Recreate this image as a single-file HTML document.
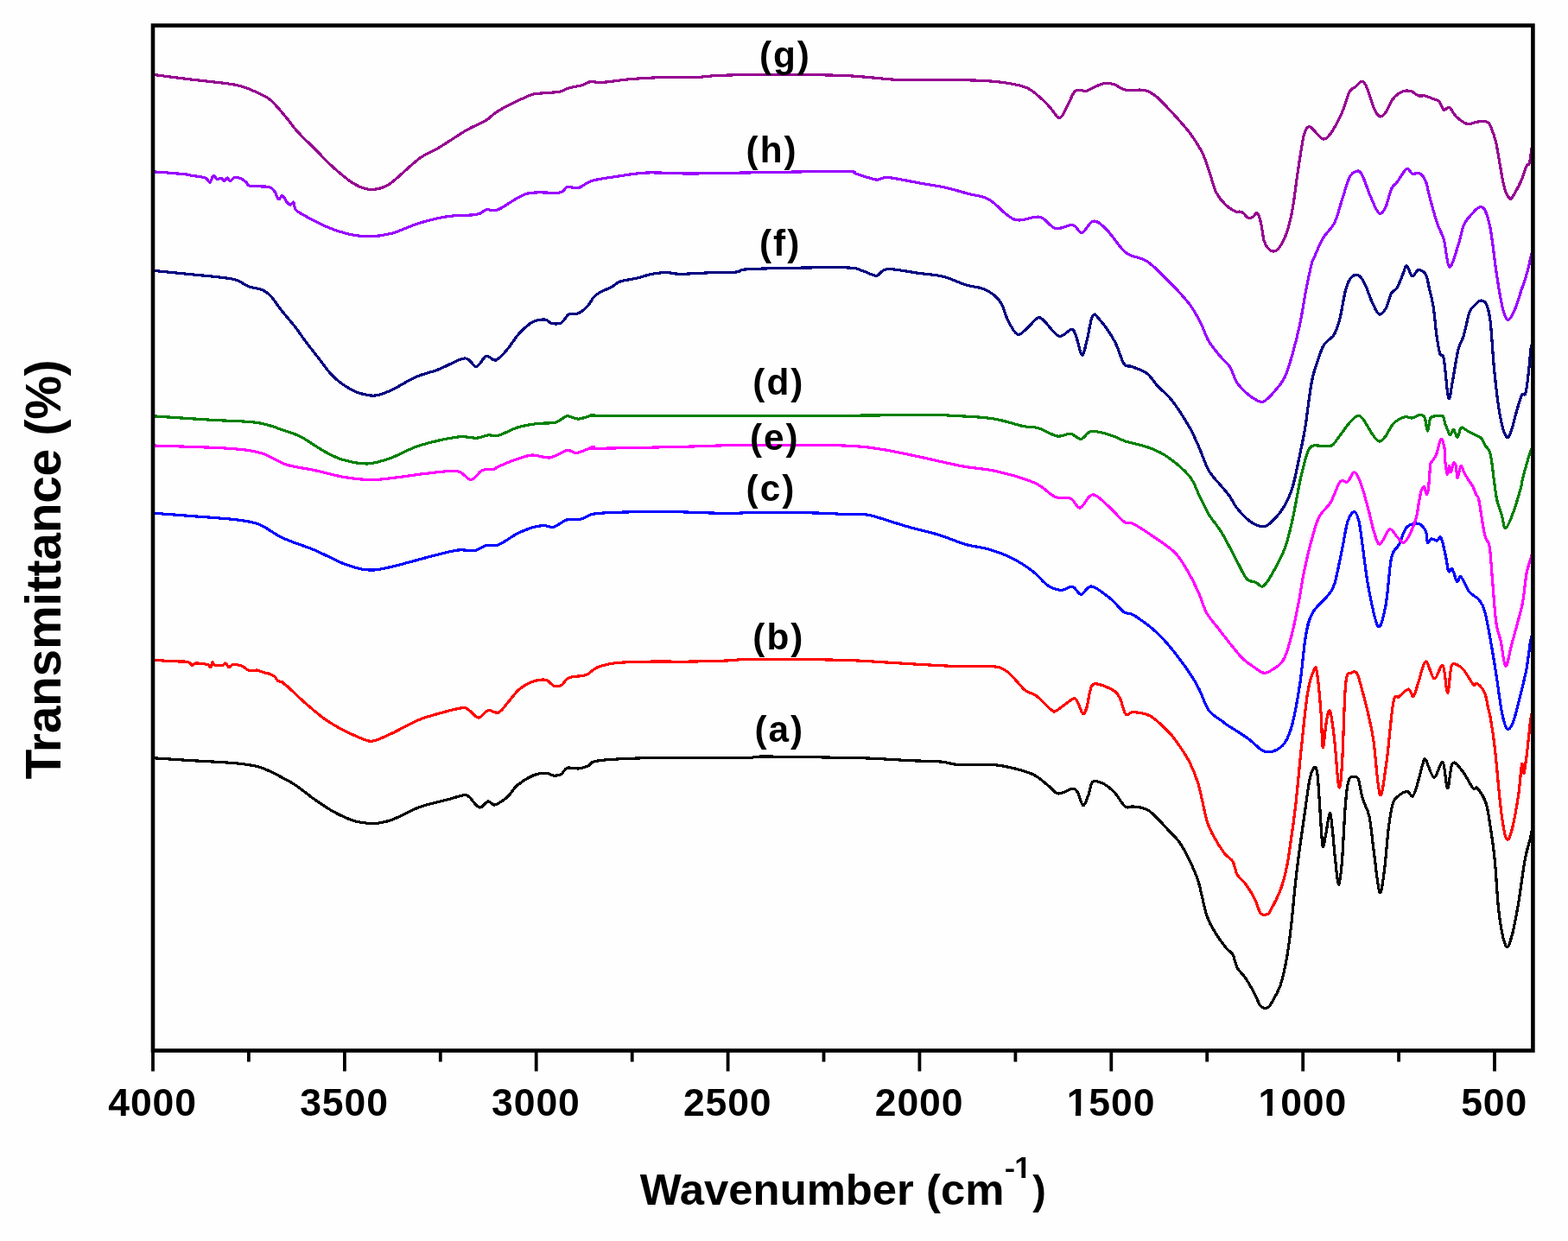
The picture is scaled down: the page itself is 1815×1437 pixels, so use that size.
<!DOCTYPE html><html><head><meta charset="utf-8"><title>FTIR spectra</title><style>html,body{margin:0;padding:0;background:#fff;}svg{display:block;}text{font-family:"Liberation Sans",Arial,sans-serif;font-weight:bold;fill:#000;}</style></head><body>
<svg width="1815" height="1437" viewBox="0 0 1815 1437">
<rect x="0" y="0" width="1815" height="1437" fill="#fefefe"/>
<g fill="none" stroke-width="3.20" stroke-linejoin="round" stroke-linecap="butt" shape-rendering="crispEdges">
<path stroke="#000000" d="M177.0 877.7C184.3 878.2 204.8 879.6 221.0 880.6C237.2 881.6 260.8 882.6 274.0 883.9C287.2 885.2 292.7 886.1 300.4 888.3C308.1 890.5 313.3 893.6 320.3 897.1C327.3 900.6 335.0 904.5 342.3 909.3C349.6 914.1 357.0 920.7 364.3 925.8C371.6 930.9 379.0 936.1 386.4 940.1C393.8 944.1 401.8 947.8 408.4 950.0C415.0 952.2 421.2 952.8 426.0 953.3C430.8 953.8 432.2 954.0 437.0 953.3C441.8 952.6 446.6 952.0 454.7 948.9C462.8 945.8 474.9 938.5 485.5 934.6C496.1 930.8 510.2 928.1 518.6 925.8C527.1 923.5 532.2 921.4 536.2 920.9C540.2 920.4 539.7 920.1 542.8 922.5C545.9 924.9 551.3 934.1 555.0 935.0C558.7 935.9 562.1 928.5 564.9 928.0C567.6 927.5 569.5 931.6 571.5 932.0C573.5 932.4 574.2 931.8 577.0 930.2C579.8 928.6 584.3 925.8 588.0 922.3C591.7 918.8 594.2 913.1 599.0 909.1C603.8 905.1 611.2 900.4 616.7 898.1C622.2 895.8 628.1 895.2 632.1 895.2C636.1 895.2 638.0 897.9 640.9 898.1C643.8 898.3 647.1 898.0 649.7 896.5C652.3 895.0 653.0 890.4 656.3 889.3C659.6 888.2 665.5 890.3 669.6 889.9C673.7 889.5 677.7 888.3 680.6 887.0C683.5 885.7 682.4 883.3 687.2 882.0C692.0 880.7 698.2 880.0 709.2 879.3C720.2 878.6 738.6 877.9 753.3 877.6C768.0 877.3 779.0 877.6 797.4 877.6C815.8 877.6 848.8 877.9 863.5 877.6C878.2 877.3 866.6 876.0 885.5 876.0C904.4 876.0 956.8 877.0 977.0 877.4C997.2 877.8 994.5 877.6 1007.0 878.1C1019.5 878.6 1038.3 879.9 1052.1 880.6C1065.9 881.3 1080.1 881.3 1089.7 882.1C1099.3 882.9 1099.7 885.0 1109.7 885.6C1119.7 886.2 1138.5 884.8 1149.8 885.6C1161.1 886.4 1169.5 888.6 1177.4 890.6C1185.3 892.6 1191.6 894.6 1197.4 897.6C1203.2 900.6 1207.8 905.4 1212.4 908.9C1217.0 912.4 1220.2 918.2 1225.0 918.9C1229.8 919.6 1237.5 913.4 1241.2 913.2C1245.0 913.0 1245.4 914.5 1247.5 917.7C1249.6 921.0 1251.7 932.3 1253.8 932.7C1255.9 933.1 1258.1 924.8 1260.0 920.2C1261.9 915.6 1262.1 907.3 1265.0 905.2C1267.9 903.1 1273.4 905.6 1277.6 907.7C1281.8 909.8 1285.9 913.3 1290.1 917.7C1294.3 922.1 1298.8 931.3 1302.6 934.0C1306.3 936.7 1308.0 933.2 1312.6 934.0C1317.2 934.8 1323.5 934.4 1330.2 939.0C1336.9 943.6 1346.9 955.5 1352.7 961.5C1358.5 967.5 1361.2 969.5 1365.2 975.3C1369.2 981.1 1373.4 989.0 1377.0 996.5C1380.6 1004.0 1383.7 1009.7 1387.0 1020.4C1390.3 1031.1 1393.7 1050.5 1397.0 1060.5C1400.3 1070.5 1403.3 1074.2 1407.1 1080.5C1410.9 1086.8 1416.3 1093.8 1419.6 1098.0C1422.9 1102.2 1425.0 1101.7 1427.1 1105.5C1429.2 1109.3 1429.6 1116.0 1432.1 1120.6C1434.6 1125.2 1438.8 1128.1 1442.1 1133.1C1445.4 1138.1 1449.4 1145.4 1452.1 1150.6C1454.8 1155.8 1456.7 1161.2 1458.5 1164.0C1460.3 1166.8 1461.3 1166.7 1462.7 1167.2C1464.1 1167.7 1465.4 1167.4 1466.7 1166.8C1468.0 1166.2 1467.9 1167.9 1470.5 1163.5C1473.1 1159.1 1479.0 1149.8 1482.2 1140.6C1485.4 1131.3 1487.6 1119.7 1489.7 1108.0C1491.8 1096.3 1493.0 1085.1 1494.7 1070.5C1496.4 1055.9 1498.0 1035.4 1499.7 1020.4C1501.4 1005.4 1503.0 992.8 1504.7 980.3C1506.4 967.8 1507.8 958.1 1509.7 945.2C1511.6 932.3 1514.1 912.1 1516.0 902.7C1517.9 893.3 1519.5 890.2 1521.0 888.9C1522.5 887.6 1523.8 888.6 1524.8 895.1C1525.8 901.6 1526.3 913.7 1527.3 927.7C1528.3 941.7 1529.8 972.7 1531.0 979.0C1532.2 985.3 1533.4 971.5 1534.8 965.3C1536.2 959.0 1538.0 942.3 1539.3 941.5C1540.5 940.7 1541.2 950.5 1542.3 960.3C1543.4 970.1 1544.8 989.7 1546.1 1000.3C1547.3 1010.9 1548.5 1024.9 1549.8 1024.1C1551.0 1023.3 1552.3 1010.5 1553.6 995.3C1554.8 980.1 1556.0 947.9 1557.3 932.7C1558.5 917.5 1559.4 909.4 1561.1 903.9C1562.8 898.4 1565.5 899.9 1567.4 899.7C1569.3 899.5 1570.7 898.5 1572.4 902.7C1574.1 907.0 1575.3 918.1 1577.4 925.2C1579.5 932.3 1582.8 935.6 1584.9 945.2C1587.0 954.8 1587.9 968.2 1589.9 982.8C1591.9 997.4 1594.8 1028.7 1596.9 1032.9C1599.0 1037.1 1600.7 1020.4 1602.4 1007.9C1604.2 995.4 1605.7 970.8 1607.4 957.8C1609.1 944.8 1610.7 936.1 1612.4 930.2C1614.1 924.4 1614.7 925.0 1617.4 922.7C1620.1 920.4 1625.8 916.5 1628.7 916.4C1631.6 916.3 1633.1 923.2 1635.0 922.2C1636.9 921.2 1637.9 916.8 1640.0 910.2C1642.1 903.6 1645.8 887.6 1647.5 882.6C1649.2 877.6 1648.4 877.2 1650.5 880.1C1652.6 883.0 1656.8 899.8 1660.0 900.2C1663.2 900.6 1667.4 880.5 1670.0 882.6C1672.6 884.7 1673.7 912.5 1675.6 912.7C1677.5 912.9 1678.5 887.2 1681.3 883.9C1684.1 880.5 1688.6 887.8 1692.6 892.6C1696.6 897.4 1702.2 909.4 1705.1 912.7C1708.0 916.1 1707.6 909.8 1710.1 912.7C1712.6 915.6 1717.6 922.7 1720.1 930.2C1722.6 937.7 1723.5 946.9 1725.2 957.8C1726.9 968.6 1728.5 978.6 1730.2 995.3C1731.9 1012.0 1733.0 1041.2 1735.2 1057.9C1737.4 1074.6 1740.7 1091.3 1743.2 1095.5C1745.7 1099.7 1747.8 1091.3 1750.2 1083.0C1752.6 1074.7 1755.2 1060.0 1757.7 1045.4C1760.2 1030.8 1762.9 1007.8 1765.2 995.3C1767.5 982.8 1770.1 976.2 1771.5 970.3C1772.9 964.4 1773.2 961.7 1773.5 960.0"/>
<path stroke="#ff0000" d="M177.0 764.1C178.9 764.2 183.8 764.7 188.5 765.0C193.2 765.3 200.6 765.7 205.2 765.9C209.8 766.1 213.3 765.9 215.8 766.3C218.3 766.6 218.8 767.3 220.0 768.0C221.2 768.7 221.8 770.7 222.9 770.7C224.0 770.7 223.6 768.3 226.4 768.1C229.2 767.9 237.1 768.8 240.0 769.5C242.9 770.2 242.8 772.8 243.8 772.3C244.8 771.8 245.1 767.2 245.8 766.8C246.5 766.4 246.8 769.1 247.8 769.8C248.8 770.4 250.3 770.6 252.0 770.7C253.7 770.8 256.5 770.7 258.0 770.2C259.5 769.8 260.0 768.0 260.8 768.0C261.6 768.0 262.3 769.8 263.0 770.5C263.7 771.2 263.9 772.7 265.2 772.5C266.4 772.3 267.9 769.5 270.5 769.4C273.1 769.2 278.4 770.6 281.0 771.6C283.6 772.6 284.5 774.7 286.3 775.6C288.1 776.5 289.7 776.8 291.6 776.9C293.5 777.0 295.6 775.7 297.8 776.0C300.0 776.3 302.7 778.0 304.9 778.7C307.1 779.4 308.8 779.2 311.0 780.0C313.2 780.8 316.3 782.1 318.1 783.5C319.9 784.9 320.1 787.4 321.6 788.4C323.1 789.4 325.7 789.1 326.9 789.7C328.1 790.3 327.5 790.9 328.7 791.9C329.9 792.9 330.6 792.9 334.0 795.9C337.4 798.9 342.0 804.0 348.9 810.1C355.8 816.2 367.2 826.3 375.3 832.2C383.4 838.1 389.3 841.2 397.4 845.4C405.5 849.5 417.6 855.1 423.8 857.1C430.1 859.1 429.8 858.5 434.9 857.1C440.0 855.7 446.3 852.7 454.7 848.7C463.1 844.7 475.6 837.3 485.5 833.3C495.4 829.3 505.8 826.8 514.2 824.5C522.7 822.2 531.4 820.0 536.2 819.6C541.0 819.2 539.8 820.4 542.8 822.3C545.8 824.2 550.2 831.0 553.9 831.1C557.6 831.2 561.0 823.7 564.9 822.7C568.8 821.7 573.1 826.5 577.0 825.0C580.9 823.5 584.0 817.9 588.0 813.4C592.0 808.9 596.4 802.0 601.2 798.0C606.0 794.0 611.6 791.0 616.7 789.2C621.9 787.4 628.1 786.6 632.1 787.4C636.1 788.2 638.0 793.0 640.9 794.0C643.8 795.0 646.8 795.1 649.7 793.6C652.6 792.1 653.7 786.8 658.5 784.8C663.3 782.8 672.9 783.5 678.4 781.5C683.9 779.5 685.7 775.0 691.6 772.7C697.5 770.4 703.3 768.7 713.6 767.6C723.9 766.5 739.3 766.4 753.3 766.1C767.3 765.9 782.7 766.3 797.4 766.1C812.1 765.9 828.6 765.5 841.5 765.0C854.4 764.5 851.9 763.3 874.5 763.2C897.1 763.1 952.6 763.8 977.0 764.4C1001.4 765.0 1006.4 765.9 1021.1 766.7C1035.8 767.5 1050.5 768.6 1065.2 769.4C1079.9 770.2 1095.2 771.2 1109.2 771.6C1123.2 772.0 1139.4 770.5 1148.9 771.6C1158.5 772.7 1160.2 773.6 1166.5 778.2C1172.8 782.8 1180.9 794.5 1186.4 799.1C1191.9 803.7 1194.5 801.8 1199.6 805.7C1204.7 809.6 1213.2 819.5 1217.2 822.3C1221.2 825.1 1219.8 824.4 1223.8 822.3C1227.8 820.2 1237.6 811.2 1241.5 809.5C1245.4 807.8 1245.0 809.4 1247.0 812.3C1249.0 815.2 1251.8 825.6 1253.6 826.7C1255.4 827.8 1256.3 824.3 1258.0 819.0C1259.7 813.7 1261.1 799.1 1263.5 794.7C1265.9 790.3 1267.9 791.6 1272.3 792.5C1276.7 793.4 1286.0 797.5 1290.0 800.2C1294.0 803.0 1294.4 804.5 1296.6 809.0C1298.8 813.5 1300.6 824.5 1303.2 827.1C1305.8 829.7 1307.2 824.1 1312.0 824.5C1316.8 824.9 1325.2 825.6 1331.8 829.3C1338.4 833.0 1346.5 841.4 1351.7 846.5C1356.9 851.6 1358.5 854.0 1362.7 860.0C1366.9 866.0 1373.0 874.6 1377.0 882.6C1381.0 890.6 1383.7 896.4 1387.0 907.7C1390.3 919.0 1394.1 940.2 1397.0 950.2C1399.9 960.2 1401.2 961.5 1404.6 967.8C1407.9 974.1 1413.3 982.8 1417.1 987.8C1420.8 992.8 1424.6 993.6 1427.1 997.8C1429.6 1002.0 1429.6 1008.5 1432.1 1012.9C1434.6 1017.3 1438.8 1019.5 1442.1 1024.1C1445.4 1028.7 1449.4 1035.0 1452.1 1040.4C1454.8 1045.8 1456.8 1053.4 1458.5 1056.5C1460.2 1059.6 1461.2 1058.8 1462.5 1059.2C1463.8 1059.6 1465.2 1059.4 1466.5 1058.8C1467.8 1058.2 1467.4 1060.2 1470.0 1055.5C1472.6 1050.8 1478.9 1039.2 1482.2 1030.4C1485.5 1021.6 1487.6 1012.8 1489.7 1002.8C1491.8 992.8 1493.0 982.0 1494.7 970.3C1496.4 958.6 1498.0 947.3 1499.7 932.7C1501.4 918.1 1503.5 894.7 1504.7 882.6C1505.9 870.5 1505.5 873.4 1507.0 860.0C1508.5 846.6 1511.2 816.6 1513.6 802.4C1516.0 788.2 1519.6 778.6 1521.4 774.9C1523.2 771.2 1523.4 771.9 1524.7 780.4C1526.0 788.9 1528.0 811.8 1529.1 826.0C1530.2 840.2 1530.1 864.3 1531.2 865.5C1532.3 866.7 1534.3 840.2 1535.7 833.3C1537.1 826.3 1538.3 819.8 1539.8 823.8C1541.3 827.8 1543.1 843.0 1544.8 857.6C1546.5 872.2 1548.3 907.2 1549.8 911.4C1551.3 915.6 1552.3 902.6 1553.6 882.6C1554.9 862.6 1555.9 808.6 1557.7 791.4C1559.5 774.2 1562.1 781.1 1564.3 779.3C1566.5 777.5 1568.7 776.5 1570.9 780.4C1573.1 784.2 1575.4 794.3 1577.6 802.4C1579.8 810.5 1582.2 819.7 1584.2 828.9C1586.2 838.1 1587.7 842.4 1589.9 857.6C1592.1 872.8 1594.9 916.0 1597.4 920.2C1599.9 924.4 1602.3 900.4 1604.9 882.6C1607.5 864.8 1610.4 826.0 1612.8 813.4C1615.2 800.8 1616.5 809.4 1619.4 806.8C1622.3 804.2 1627.6 798.1 1630.4 798.0C1633.2 797.9 1634.2 807.5 1636.0 806.4C1637.8 805.3 1639.1 798.1 1641.5 791.4C1643.9 784.7 1647.2 767.0 1650.3 766.1C1653.4 765.2 1656.9 785.2 1660.2 785.9C1663.5 786.6 1667.5 767.8 1670.1 770.5C1672.7 773.2 1673.9 802.2 1675.6 802.4C1677.2 802.6 1678.3 777.1 1680.0 771.6C1681.7 766.1 1683.1 768.7 1685.5 769.4C1687.9 770.1 1691.1 772.1 1694.4 776.0C1697.7 779.9 1702.8 789.9 1705.4 792.5C1708.0 795.1 1707.6 789.8 1709.8 791.4C1712.0 793.0 1716.5 797.6 1718.6 802.4C1720.7 807.2 1721.5 815.2 1722.6 820.0C1723.7 824.8 1723.9 823.6 1725.2 831.1C1726.5 838.6 1728.1 846.9 1730.2 865.1C1732.3 883.3 1735.4 922.5 1737.7 940.2C1740.0 957.9 1741.8 968.1 1743.9 971.5C1746.0 974.9 1747.9 968.8 1750.2 960.3C1752.5 951.8 1755.8 932.7 1757.7 920.2C1759.6 907.7 1760.5 889.3 1761.5 885.1C1762.5 880.9 1763.0 897.6 1764.0 895.1C1765.0 892.6 1766.5 880.1 1767.7 870.1C1769.0 860.1 1770.5 842.5 1771.5 835.0C1772.5 827.5 1773.2 826.7 1773.5 825.0"/>
<path stroke="#0000ff" d="M177.0 594.2C184.3 594.8 204.8 596.2 221.0 597.5C237.2 598.8 260.8 600.2 274.0 601.9C287.2 603.5 291.6 603.9 300.4 607.4C309.2 610.9 316.2 617.8 326.9 622.8C337.5 627.8 352.6 632.1 364.3 637.1C376.1 642.1 388.2 648.9 397.4 652.6C406.6 656.3 412.8 658.0 419.4 659.2C426.0 660.4 429.6 660.5 437.0 659.6C444.4 658.7 453.6 656.2 463.5 653.7C473.4 651.2 485.6 647.6 496.6 644.8C507.6 642.0 520.8 638.3 529.6 637.1C538.4 635.9 544.0 638.5 549.5 637.6C555.0 636.7 558.1 632.7 562.7 631.6C567.3 630.5 571.0 633.1 577.0 630.8C583.0 628.5 592.4 621.1 599.0 617.7C605.6 614.4 611.6 612.2 616.7 610.7C621.9 609.2 625.9 608.6 629.9 608.5C633.9 608.4 636.5 611.3 640.9 610.2C645.3 609.1 651.1 603.4 656.3 601.9C661.4 600.4 666.8 602.5 671.8 601.4C676.8 600.3 679.9 596.6 686.1 595.3C692.3 594.0 699.5 594.0 709.2 593.5C718.9 593.0 732.7 592.8 744.5 592.6C756.3 592.5 763.6 592.3 779.8 592.6C796.0 592.9 823.9 594.3 841.5 594.4C859.1 594.5 867.1 593.1 885.5 593.1C903.9 593.1 936.5 593.8 951.7 594.2C967.0 594.6 968.0 595.1 977.0 595.5C986.0 595.9 993.5 594.0 1005.6 596.4C1017.7 598.8 1036.1 605.8 1049.7 609.6C1063.3 613.5 1075.8 616.0 1087.2 619.5C1098.6 623.0 1108.5 627.8 1118.0 630.5C1127.5 633.2 1135.7 633.4 1144.5 636.0C1153.3 638.6 1162.5 641.8 1170.9 646.0C1179.4 650.2 1188.2 656.1 1195.2 661.4C1202.2 666.7 1207.3 674.2 1212.8 677.9C1218.3 681.6 1223.4 683.1 1228.2 683.4C1233.0 683.6 1237.6 678.6 1241.5 679.4C1245.4 680.2 1247.7 688.4 1251.4 688.3C1255.1 688.2 1257.8 678.2 1263.5 679.0C1269.2 679.8 1279.2 688.3 1285.5 693.3C1291.8 698.3 1296.6 705.7 1301.0 708.8C1305.4 711.9 1305.8 708.2 1312.0 712.1C1318.2 716.0 1330.7 724.9 1338.4 731.9C1346.1 738.9 1351.9 746.0 1358.3 753.9C1364.7 761.8 1372.0 771.9 1377.0 779.3C1382.0 786.6 1384.3 790.8 1388.0 798.0C1391.7 805.2 1394.6 816.1 1399.0 822.3C1403.4 828.5 1410.9 832.1 1414.6 835.0C1418.3 837.9 1416.1 836.5 1421.1 839.9C1426.1 843.2 1437.8 850.1 1444.6 855.1C1451.4 860.1 1457.2 867.2 1462.2 869.6C1467.2 872.0 1470.5 871.2 1474.7 869.6C1478.9 868.0 1483.7 865.4 1487.2 860.1C1490.8 854.8 1493.1 849.5 1496.0 838.0C1498.9 826.5 1502.2 808.4 1504.8 791.4C1507.4 774.4 1509.0 749.9 1511.4 736.3C1513.8 722.7 1515.0 717.4 1519.1 709.9C1523.1 702.4 1531.5 696.6 1535.7 691.1C1539.9 685.6 1541.6 685.8 1544.5 676.8C1547.4 667.8 1550.7 649.2 1553.3 637.1C1555.9 625.0 1557.5 611.5 1559.9 604.1C1562.3 596.7 1565.4 592.6 1567.6 592.6C1569.8 592.6 1571.4 597.1 1573.1 604.1C1574.8 611.1 1575.8 622.0 1577.6 634.9C1579.4 647.8 1581.3 666.1 1584.2 681.2C1587.1 696.3 1591.9 722.0 1595.2 725.3C1598.5 728.6 1601.4 714.2 1604.0 701.0C1606.6 687.8 1608.0 657.8 1610.6 646.0C1613.2 634.2 1616.5 636.4 1619.4 630.5C1622.3 624.6 1624.5 614.7 1628.2 610.7C1631.9 606.7 1637.8 605.6 1641.5 606.3C1645.2 607.0 1648.5 611.4 1650.3 615.1C1652.1 618.8 1651.4 626.8 1652.5 628.3C1653.6 629.8 1655.1 624.3 1656.9 623.9C1658.7 623.5 1661.7 626.3 1663.5 626.1C1665.3 625.9 1666.3 619.9 1668.0 622.8C1669.7 625.7 1672.0 637.3 1673.4 643.7C1674.9 650.1 1675.4 658.8 1676.7 661.4C1678.0 664.0 1679.4 657.2 1681.1 659.2C1682.8 661.2 1684.9 672.0 1686.6 673.5C1688.2 675.0 1688.6 666.0 1691.0 668.0C1693.4 670.0 1697.5 681.2 1701.0 685.6C1704.5 690.0 1709.1 690.7 1712.0 694.4C1714.9 698.1 1716.4 700.0 1718.6 707.7C1720.8 715.4 1723.0 728.6 1725.2 740.7C1727.4 752.8 1729.6 766.4 1731.8 780.4C1734.0 794.4 1736.3 813.9 1738.4 824.5C1740.5 835.1 1742.3 842.2 1744.5 844.0C1746.7 845.8 1749.0 842.4 1751.7 835.5C1754.4 828.6 1757.9 812.7 1760.5 802.4C1763.1 792.1 1765.3 783.7 1767.1 773.8C1768.9 763.9 1770.4 749.4 1771.5 742.9C1772.6 736.4 1773.2 736.3 1773.5 735.0"/>
<path stroke="#ff00ff" d="M177.0 516.0C191.7 516.5 244.3 517.8 265.2 519.3C286.1 520.8 291.6 521.7 302.6 524.8C313.6 527.9 321.0 534.7 331.3 538.0C341.6 541.3 353.3 542.2 364.3 544.6C375.3 547.0 386.4 550.5 397.4 552.3C408.4 554.1 419.4 555.6 430.4 555.6C441.4 555.6 452.5 553.6 463.5 552.3C474.5 551.0 485.6 549.0 496.6 547.9C507.6 546.8 521.5 544.4 529.6 545.7C537.7 547.0 540.2 555.8 545.0 555.6C549.8 555.4 553.9 546.6 558.3 544.6C562.7 542.6 568.4 544.2 571.5 543.5C574.6 542.8 572.4 542.2 577.0 540.2C581.6 538.2 592.4 533.6 599.0 531.4C605.6 529.2 610.5 527.2 616.7 527.0C623.0 526.8 629.9 530.8 636.5 529.9C643.1 529.0 651.1 522.4 656.3 521.5C661.4 520.6 662.2 525.1 667.4 524.4C672.5 523.7 683.2 518.4 687.2 517.5C691.2 516.6 673.2 519.4 691.6 519.3C710.0 519.2 768.8 517.8 797.4 517.1C826.0 516.4 833.6 515.5 863.5 515.3C893.4 515.1 950.7 515.1 977.0 516.0C1003.3 516.9 1006.4 518.2 1021.1 520.4C1035.8 522.6 1049.8 526.0 1065.2 529.2C1080.6 532.4 1098.9 537.0 1113.6 539.8C1128.3 542.5 1139.3 542.5 1153.3 545.7C1167.3 548.9 1186.0 554.0 1197.4 559.0C1208.8 564.0 1214.6 572.5 1221.6 575.5C1228.6 578.5 1234.5 575.2 1239.3 577.3C1244.1 579.4 1246.1 588.8 1250.3 588.0C1254.5 587.2 1259.1 573.1 1264.6 572.8C1270.1 572.5 1277.2 581.2 1283.3 586.4C1289.4 591.6 1296.2 600.7 1301.0 604.1C1305.8 607.5 1306.5 604.0 1312.0 606.7C1317.5 609.5 1325.9 615.0 1334.0 620.6C1342.1 626.2 1353.3 633.0 1360.5 640.4C1367.7 647.8 1372.4 657.4 1377.0 665.3C1381.6 673.2 1384.7 680.4 1388.0 687.8C1391.3 695.2 1393.1 703.3 1396.8 709.9C1400.5 716.5 1405.3 721.3 1410.1 727.5C1414.9 733.7 1420.7 741.4 1425.5 747.3C1430.3 753.2 1434.3 758.6 1438.7 762.8C1443.1 767.0 1447.9 770.0 1451.9 772.7C1456.0 775.5 1459.7 778.8 1463.0 779.3C1466.3 779.8 1468.1 778.4 1471.8 776.0C1475.5 773.6 1481.3 770.9 1485.0 765.0C1488.7 759.1 1490.9 751.4 1493.8 740.7C1496.7 730.0 1500.0 713.9 1502.6 701.0C1505.2 688.1 1506.6 676.1 1509.2 663.6C1511.8 651.1 1515.0 636.9 1518.0 626.1C1521.0 615.3 1523.2 606.0 1526.9 598.6C1530.6 591.2 1536.1 588.8 1540.1 582.0C1544.1 575.2 1547.8 562.0 1551.1 558.0C1554.4 554.0 1557.2 559.7 1559.9 557.8C1562.7 555.9 1565.0 546.4 1567.6 546.8C1570.2 547.2 1572.5 552.6 1575.3 560.0C1578.1 567.4 1581.6 581.4 1584.2 590.9C1586.8 600.4 1588.6 610.8 1590.8 617.3C1593.0 623.8 1594.5 630.8 1597.4 630.1C1600.3 629.4 1605.1 614.3 1608.4 612.9C1611.7 611.5 1614.5 619.1 1617.2 621.7C1620.0 624.3 1622.3 629.0 1624.9 628.3C1627.5 627.6 1630.2 622.1 1632.6 617.3C1635.0 612.5 1637.5 606.3 1639.3 599.7C1641.0 593.1 1642.0 583.1 1643.1 577.7C1644.1 572.3 1644.6 569.4 1645.6 567.1C1646.5 564.8 1647.8 563.0 1648.8 563.9C1649.8 564.8 1650.5 572.5 1651.3 572.7C1652.1 572.9 1652.9 569.6 1653.5 565.2C1654.1 560.8 1654.6 551.0 1655.0 546.4C1655.4 541.8 1655.1 539.9 1655.7 537.6C1656.3 535.3 1657.8 534.3 1658.8 532.6C1659.8 530.9 1661.1 529.3 1661.9 527.6C1662.7 525.9 1663.1 525.1 1663.8 522.6C1664.5 520.1 1665.5 514.9 1666.3 512.6C1667.1 510.3 1668.0 508.4 1668.8 508.8C1669.6 509.2 1670.7 512.5 1671.3 515.1C1671.9 517.7 1672.3 521.2 1672.6 524.5C1672.9 527.8 1672.6 531.5 1672.9 535.1C1673.2 538.8 1674.0 544.1 1674.5 546.4C1675.0 548.7 1675.2 550.0 1675.7 548.9C1676.2 547.8 1677.0 539.9 1677.6 539.5C1678.2 539.1 1678.7 546.9 1679.5 546.4C1680.3 545.9 1681.7 537.6 1682.6 536.4C1683.5 535.1 1684.4 536.1 1685.1 538.9C1685.8 541.7 1686.3 552.5 1687.0 553.3C1687.7 554.1 1688.8 546.2 1689.5 543.9C1690.2 541.6 1690.7 539.3 1691.4 539.5C1692.1 539.7 1693.1 543.3 1693.9 545.1C1694.7 546.9 1695.4 548.3 1696.4 550.2C1697.5 552.1 1698.9 554.3 1700.2 556.4C1701.5 558.5 1703.0 559.9 1704.5 562.7C1706.0 565.5 1707.7 570.4 1708.9 573.3C1710.2 576.2 1710.4 572.3 1712.0 580.0C1713.6 587.7 1716.6 610.7 1718.6 619.5C1720.6 628.3 1722.6 624.2 1724.1 632.7C1725.6 641.2 1726.1 655.5 1727.4 670.2C1728.7 684.9 1730.2 708.8 1731.8 720.9C1733.4 733.0 1735.5 734.4 1737.3 742.9C1739.1 751.4 1740.8 770.9 1742.8 771.6C1744.8 772.3 1747.3 755.4 1749.5 747.3C1751.7 739.2 1753.9 731.5 1756.1 723.1C1758.3 714.7 1760.9 706.5 1762.7 696.6C1764.5 686.7 1765.6 671.7 1767.1 663.6C1768.6 655.5 1770.4 652.1 1771.5 648.2C1772.6 644.3 1773.2 641.4 1773.5 640.0"/>
<path stroke="#008000" d="M177.0 481.8C188.0 482.5 222.9 484.9 243.1 486.2C263.3 487.5 283.5 487.3 298.2 489.5C312.9 491.7 322.9 496.6 331.3 499.4C339.8 502.2 341.6 502.2 348.9 506.1C356.2 510.0 367.2 518.2 375.3 522.6C383.4 527.0 388.9 530.1 397.4 532.5C405.8 534.9 416.8 537.3 426.0 536.9C435.2 536.5 442.6 533.8 452.5 530.3C462.4 526.8 472.6 520.0 485.5 516.0C498.4 512.0 518.6 507.6 529.6 506.1C540.6 504.6 545.8 507.6 551.7 507.2C557.6 506.8 560.7 504.4 564.9 503.9C569.1 503.4 571.3 505.7 577.0 504.2C582.7 502.7 591.6 497.3 599.0 495.0C606.4 492.7 613.8 491.6 621.1 490.6C628.5 489.6 637.2 490.6 643.1 489.1C649.0 487.6 651.9 482.5 656.3 481.8C660.7 481.1 664.5 485.4 669.6 485.1C674.8 484.9 683.5 480.9 687.2 480.3C690.9 479.8 673.2 481.7 691.6 481.8C710.0 481.9 749.8 481.3 797.4 481.2C845.0 481.1 930.9 481.3 977.0 481.2C1023.1 481.1 1053.4 480.3 1074.0 480.3C1094.6 480.3 1087.9 480.5 1100.4 481.2C1112.9 481.9 1134.9 482.6 1148.9 484.7C1162.9 486.8 1175.4 491.7 1184.2 493.5C1193.0 495.3 1195.2 493.8 1201.8 495.7C1208.4 497.6 1217.5 503.9 1223.8 505.0C1230.0 506.1 1234.7 501.8 1239.3 502.3C1243.9 502.9 1247.4 508.8 1251.4 508.3C1255.4 507.8 1257.8 500.1 1263.5 499.4C1269.2 498.7 1278.9 501.9 1285.5 503.9C1292.1 505.8 1295.9 508.7 1303.2 511.1C1310.5 513.5 1321.5 515.2 1329.6 518.2C1337.7 521.2 1343.8 523.6 1351.7 529.2C1359.6 534.8 1371.0 544.4 1377.0 551.7C1383.0 559.1 1384.3 566.0 1388.0 573.3C1391.7 580.6 1394.6 588.0 1399.0 595.3C1403.4 602.6 1409.0 608.1 1414.5 617.3C1420.0 626.5 1427.3 641.6 1432.1 650.4C1436.9 659.2 1439.4 666.2 1443.1 670.2C1446.8 674.2 1451.0 673.1 1454.1 674.6C1457.2 676.1 1458.8 680.5 1461.8 679.0C1464.8 677.5 1467.6 673.1 1471.8 665.8C1476.0 658.4 1483.2 645.5 1487.2 634.9C1491.2 624.3 1493.1 615.0 1496.0 602.0C1498.9 589.0 1502.4 568.4 1504.8 557.0C1507.2 545.6 1508.9 539.6 1510.5 533.7C1512.1 527.8 1512.9 524.5 1514.5 521.5C1516.1 518.5 1516.0 516.9 1520.3 516.0C1524.6 515.1 1535.3 517.9 1540.1 516.4C1544.9 514.9 1545.2 511.7 1548.9 507.2C1552.6 502.7 1558.4 493.7 1562.1 489.5C1565.8 485.3 1568.3 482.5 1570.9 481.8C1573.5 481.1 1574.6 481.6 1577.6 485.1C1580.5 488.6 1585.5 498.5 1588.6 502.8C1591.7 507.1 1593.7 510.7 1596.3 511.1C1598.9 511.5 1601.2 508.4 1604.0 505.0C1606.8 501.6 1609.1 494.3 1612.8 490.6C1616.5 486.9 1622.3 484.0 1626.0 482.9C1629.7 481.8 1631.8 484.4 1634.8 484.0C1637.8 483.6 1641.3 480.3 1643.7 480.3C1646.1 480.3 1647.7 480.8 1649.2 484.0C1650.7 487.2 1651.4 499.4 1652.5 499.4C1653.6 499.4 1654.0 486.9 1655.8 484.0C1657.6 481.1 1661.1 482.2 1663.5 481.8C1665.9 481.4 1668.6 480.4 1670.1 481.8C1671.6 483.2 1671.8 487.6 1672.6 490.0C1673.4 492.4 1674.1 494.0 1675.1 496.3C1676.1 498.6 1677.5 503.6 1678.8 503.8C1680.0 504.0 1681.2 497.0 1682.6 497.5C1684.0 498.0 1685.8 506.9 1687.0 506.9C1688.2 506.9 1689.2 499.5 1690.1 497.5C1691.0 495.5 1691.5 495.0 1692.6 495.0C1693.6 495.0 1694.7 496.4 1696.4 497.5C1698.1 498.6 1700.3 500.1 1702.7 501.3C1705.1 502.6 1708.7 503.9 1710.8 505.0C1712.9 506.1 1713.7 506.3 1715.2 508.2C1716.7 510.1 1717.9 513.3 1719.6 516.3C1721.3 519.3 1723.5 519.0 1725.2 526.0C1726.9 533.0 1728.3 549.0 1729.6 558.0C1730.9 567.0 1731.5 573.5 1733.0 580.0C1734.5 586.5 1736.8 591.7 1738.4 597.0C1740.0 602.3 1740.6 612.4 1742.8 611.8C1745.0 611.1 1748.8 601.0 1751.7 593.1C1754.7 585.2 1758.7 571.0 1760.5 564.4C1762.3 557.8 1760.9 560.4 1762.7 553.4C1764.5 546.4 1769.7 528.2 1771.5 522.6C1773.3 517.0 1773.2 520.4 1773.5 520.0"/>
<path stroke="#000080" d="M177.0 313.3C184.3 314.0 205.6 316.1 221.0 317.7C236.4 319.3 258.6 320.9 269.6 323.2C280.6 325.5 281.5 329.4 287.2 331.5C292.9 333.6 299.6 333.9 304.0 335.8C308.4 337.7 310.5 339.8 313.6 343.0C316.7 346.2 319.6 351.2 322.5 355.1C325.4 359.0 328.0 362.1 331.3 366.1C334.6 370.1 338.6 374.5 342.3 379.3C346.0 384.1 348.9 388.9 353.3 394.8C357.7 400.7 363.2 407.6 368.7 414.6C374.2 421.6 379.8 430.4 386.4 436.6C393.0 442.9 401.8 448.6 408.4 452.1C415.0 455.6 421.2 456.7 426.0 457.6C430.8 458.5 432.2 458.7 437.0 457.6C441.8 456.5 447.3 454.5 454.7 451.0C462.1 447.5 472.3 440.5 481.1 436.6C489.9 432.7 498.8 431.3 507.6 427.8C516.4 424.3 528.1 417.5 534.0 415.7C539.9 413.9 539.8 415.3 542.8 416.8C545.8 418.3 548.4 425.2 551.7 424.5C555.0 423.8 559.4 413.7 562.7 412.4C566.0 411.1 569.1 416.3 571.5 416.8C573.9 417.3 574.2 417.4 577.0 415.2C579.8 413.0 584.0 408.5 588.0 403.6C592.0 398.7 596.4 391.1 601.2 386.0C606.0 380.9 611.7 375.3 616.7 372.7C621.7 370.1 627.3 369.8 631.0 370.1C634.7 370.4 635.6 373.9 638.7 374.5C641.8 375.1 646.4 375.6 649.7 373.8C653.0 372.0 655.2 365.7 658.5 363.9C661.8 362.1 665.9 364.4 669.6 362.8C673.3 361.2 677.7 357.1 680.6 354.0C683.5 350.9 685.0 346.6 687.2 344.1C689.4 341.6 690.1 341.1 693.8 339.0C697.5 336.9 705.2 333.7 709.2 331.5C713.2 329.3 713.2 327.6 718.0 326.0C722.8 324.4 732.0 323.4 737.9 322.0C743.8 320.6 747.8 318.7 753.3 317.6C758.8 316.5 765.5 315.6 771.0 315.5C776.5 315.4 778.3 317.2 786.4 317.3C794.5 317.4 808.4 316.3 819.4 315.9C830.4 315.5 844.0 315.7 852.5 315.0C861.0 314.3 849.4 312.4 870.1 311.5C890.9 310.6 955.5 309.4 977.0 309.8C998.5 310.2 992.8 312.2 999.0 313.8C1005.2 315.4 1009.7 319.6 1014.5 319.2C1019.3 318.8 1019.2 312.0 1027.7 311.6C1036.2 311.2 1054.6 315.2 1065.2 316.6C1075.8 318.0 1082.8 318.0 1091.6 320.2C1100.4 322.4 1110.3 327.5 1118.0 329.9C1125.7 332.2 1132.4 332.3 1137.9 334.3C1143.4 336.3 1147.4 338.9 1151.1 342.0C1154.8 345.1 1157.3 348.1 1159.9 352.9C1162.5 357.6 1163.5 364.8 1166.5 370.5C1169.5 376.2 1173.9 385.5 1177.6 387.1C1181.3 388.8 1184.6 383.6 1188.6 380.4C1192.6 377.2 1198.1 369.0 1201.8 367.9C1205.5 366.8 1206.6 370.2 1210.6 373.8C1214.6 377.4 1221.0 388.0 1226.0 389.3C1231.0 390.6 1237.1 381.3 1240.4 381.5C1243.7 381.7 1243.9 385.4 1245.9 390.4C1247.9 395.4 1250.5 410.6 1252.5 411.3C1254.5 412.0 1256.0 402.3 1258.0 394.8C1260.0 387.3 1262.2 370.3 1264.6 366.1C1267.0 361.9 1268.1 364.6 1272.3 369.4C1276.5 374.2 1285.2 386.2 1290.0 394.8C1294.8 403.4 1297.7 416.2 1301.0 421.2C1304.3 426.1 1305.4 422.7 1309.8 424.5C1314.2 426.3 1322.3 428.3 1327.4 432.2C1332.5 436.1 1335.8 442.5 1340.6 447.7C1345.4 452.9 1350.0 455.2 1356.1 463.1C1362.2 471.0 1371.7 485.8 1377.0 495.0C1382.3 504.2 1384.3 509.9 1388.0 518.2C1391.7 526.5 1395.0 537.4 1399.0 544.6C1403.0 551.8 1408.2 556.2 1412.3 561.2C1416.3 566.2 1420.0 569.9 1423.3 574.5C1426.6 579.1 1428.1 583.8 1432.1 588.7C1436.1 593.6 1442.7 600.6 1447.5 604.1C1452.3 607.6 1457.0 609.2 1460.7 609.6C1464.4 610.0 1465.5 609.8 1469.6 606.3C1473.6 602.8 1480.6 595.7 1485.0 588.7C1489.4 581.7 1492.9 574.2 1496.0 564.5C1499.1 554.8 1501.4 541.6 1503.8 530.3C1506.2 519.0 1508.5 508.6 1510.5 496.9C1512.5 485.2 1514.1 469.7 1515.5 460.2C1516.9 450.7 1517.6 445.7 1518.8 440.0C1520.0 434.3 1520.4 432.4 1522.5 426.0C1524.6 419.6 1528.7 406.8 1531.3 401.4C1533.9 396.0 1535.7 396.1 1537.9 393.7C1540.1 391.3 1542.3 391.3 1544.5 387.1C1546.7 382.9 1548.9 376.9 1551.1 368.3C1553.3 359.7 1555.5 343.2 1557.7 335.3C1559.9 327.4 1561.7 323.5 1564.3 320.9C1566.9 318.2 1570.5 318.1 1573.1 319.4C1575.7 320.7 1577.2 323.5 1579.8 328.7C1582.4 333.9 1585.8 344.8 1588.6 350.7C1591.3 356.6 1593.7 362.8 1596.3 363.9C1598.9 365.0 1601.6 361.3 1604.0 357.3C1606.4 353.3 1608.4 343.7 1610.6 339.7C1612.8 335.7 1615.0 336.8 1617.2 333.1C1619.4 329.4 1622.0 321.8 1623.8 317.6C1625.6 313.4 1626.4 307.3 1628.2 307.7C1630.0 308.1 1632.6 318.9 1634.8 319.8C1637.0 320.7 1638.9 313.2 1641.5 312.8C1644.1 312.4 1648.1 313.9 1650.3 317.6C1652.5 321.4 1653.2 329.1 1654.7 335.3C1656.2 341.6 1657.7 346.2 1659.1 355.1C1660.5 364.1 1661.7 379.9 1663.0 389.0C1664.3 398.1 1665.6 405.6 1667.0 410.0C1668.4 414.4 1669.6 407.0 1671.2 415.5C1672.8 424.0 1675.1 456.3 1676.7 460.9C1678.3 465.5 1679.3 452.5 1681.1 443.3C1682.9 434.1 1685.5 415.0 1687.7 405.8C1689.9 396.6 1692.2 395.6 1694.4 388.2C1696.6 380.8 1698.8 367.6 1701.0 361.7C1703.2 355.8 1705.4 355.2 1707.6 352.9C1709.8 350.6 1712.0 348.0 1714.2 348.0C1716.4 348.0 1719.0 348.8 1720.8 352.9C1722.6 357.0 1723.7 360.2 1725.2 372.7C1726.7 385.2 1727.8 409.8 1729.6 427.8C1731.4 445.8 1733.8 467.6 1736.2 480.7C1738.6 493.8 1741.7 503.2 1743.9 506.1C1746.1 509.0 1747.5 503.6 1749.5 498.3C1751.5 493.0 1754.1 480.9 1756.1 474.1C1758.1 467.3 1759.9 460.8 1761.6 457.6C1763.2 454.4 1764.7 459.6 1766.0 455.0C1767.3 450.4 1768.5 438.5 1769.5 430.0C1770.5 421.5 1771.3 409.3 1772.0 404.0C1772.7 398.7 1773.2 399.0 1773.5 398.0"/>
<path stroke="#9900ff" d="M177.0 198.8C180.8 199.1 193.4 199.9 200.0 200.5C206.6 201.1 213.2 201.7 216.7 202.1C220.2 202.5 217.8 202.6 221.1 203.2C224.4 203.8 233.4 204.8 236.5 205.5C239.6 206.2 238.7 206.8 239.8 207.7C240.9 208.6 241.9 211.7 243.1 211.0C244.3 210.3 245.8 203.9 247.1 203.3C248.4 202.7 249.3 206.6 250.8 207.2C252.3 207.8 254.8 206.2 256.3 206.6C257.8 207.0 258.4 209.5 259.6 209.4C260.8 209.3 262.3 205.9 263.4 205.9C264.5 205.9 264.9 209.5 266.3 209.4C267.7 209.3 269.8 206.0 271.8 205.5C273.8 205.0 276.2 205.7 278.4 206.6C280.6 207.5 283.2 209.5 285.0 211.0C286.8 212.5 285.0 214.5 289.4 215.4C293.8 216.3 306.6 215.4 311.4 216.5C316.2 217.6 316.1 219.6 318.0 222.0C319.9 224.4 321.0 230.1 322.5 230.8C324.0 231.5 325.4 226.0 326.9 226.4C328.4 226.8 329.8 231.2 331.3 233.0C332.8 234.8 334.3 237.2 335.7 237.4C337.1 237.6 338.6 233.4 339.6 234.1C340.6 234.8 340.6 239.8 341.8 241.8C343.0 243.8 341.8 243.3 346.7 246.2C351.6 249.1 362.6 255.5 371.0 259.4C379.4 263.3 388.6 267.0 397.4 269.4C406.2 271.8 414.6 273.6 423.8 273.8C433.0 274.0 442.2 273.1 452.5 270.5C462.8 267.9 474.5 261.6 485.5 258.3C496.5 255.0 507.6 252.2 518.6 250.6C529.6 248.9 544.4 249.7 551.7 248.4C559.1 247.1 558.5 243.9 562.7 242.9C566.9 241.9 569.1 245.6 577.0 242.5C584.9 239.4 598.2 227.4 610.0 224.2C621.8 221.0 639.8 224.4 647.5 223.1C655.2 221.8 652.6 217.4 656.3 216.5C660.0 215.6 664.8 218.8 669.6 217.6C674.4 216.4 677.7 211.6 685.0 209.4C692.3 207.2 702.9 206.0 713.6 204.4C724.3 202.8 735.0 200.6 749.0 200.0C763.0 199.4 778.3 201.0 797.4 201.0C816.5 201.0 833.6 200.4 863.5 200.0C893.4 199.6 955.9 198.2 977.0 198.4C998.1 198.6 984.0 199.4 990.2 201.0C996.5 202.6 1008.2 207.3 1014.5 208.1C1020.8 208.8 1019.2 204.8 1027.7 205.5C1036.2 206.2 1054.2 210.2 1065.2 212.1C1076.2 214.0 1084.6 215.1 1093.8 217.1C1103.0 219.1 1111.8 221.9 1120.3 224.2C1128.8 226.5 1136.8 226.6 1144.5 230.8C1152.2 235.0 1160.6 245.5 1166.5 249.5C1172.4 253.5 1173.5 254.7 1179.8 255.0C1186.0 255.3 1197.0 249.7 1204.0 251.3C1211.0 252.9 1215.3 262.9 1221.6 264.5C1227.8 266.1 1236.3 259.8 1241.5 260.6C1246.7 261.4 1248.5 270.1 1252.5 269.4C1256.5 268.6 1260.9 256.7 1265.7 256.1C1270.5 255.6 1274.8 260.0 1281.1 266.1C1287.3 272.2 1295.5 286.4 1303.2 292.5C1310.9 298.6 1319.3 297.1 1327.4 302.4C1335.5 307.7 1343.4 316.2 1351.7 324.5C1360.0 332.8 1370.6 344.0 1377.0 352.4C1383.4 360.8 1386.5 367.8 1390.2 374.9C1393.9 382.0 1395.3 388.6 1399.0 394.8C1402.7 401.1 1408.2 407.4 1412.3 412.4C1416.3 417.3 1420.0 419.4 1423.3 424.5C1426.6 429.6 1428.8 438.2 1432.1 443.3C1435.4 448.4 1439.4 452.1 1443.1 455.4C1446.8 458.7 1450.8 461.5 1454.1 463.1C1457.4 464.7 1459.3 466.6 1463.0 464.8C1466.7 463.0 1472.2 456.8 1476.2 452.1C1480.2 447.4 1483.9 443.6 1487.2 436.6C1490.5 429.6 1493.1 420.5 1496.0 410.2C1498.9 399.9 1502.2 387.0 1504.8 374.9C1507.4 362.8 1509.2 348.9 1511.4 337.5C1513.6 326.1 1516.5 312.8 1518.0 306.6C1519.5 300.4 1518.1 305.3 1520.3 300.2C1522.5 295.1 1527.3 283.0 1531.3 276.0C1535.3 269.0 1540.8 265.7 1544.5 258.3C1548.2 251.0 1550.4 240.7 1553.3 231.9C1556.2 223.1 1559.3 211.1 1562.1 205.5C1564.8 199.9 1567.4 199.0 1569.8 198.4C1572.2 197.8 1573.6 197.2 1576.4 202.1C1579.2 206.9 1583.1 220.0 1586.4 227.5C1589.7 235.0 1593.4 244.9 1596.3 246.9C1599.2 248.9 1601.6 244.3 1604.0 239.6C1606.4 234.9 1608.4 223.5 1610.6 218.7C1612.8 213.9 1614.3 214.9 1617.2 211.0C1620.1 207.1 1625.3 197.2 1628.2 195.5C1631.1 193.8 1632.2 200.1 1634.8 201.0C1637.4 201.9 1641.1 199.5 1643.7 201.0C1646.3 202.5 1648.5 205.5 1650.3 209.9C1652.1 214.3 1652.5 219.4 1654.7 227.5C1656.9 235.6 1660.8 250.0 1663.5 258.3C1666.2 266.6 1668.8 268.7 1671.2 277.1C1673.6 285.6 1675.0 307.7 1677.8 309.0C1680.5 310.3 1684.9 292.9 1687.7 284.8C1690.5 276.7 1691.8 266.7 1694.4 260.6C1697.0 254.5 1700.3 251.8 1703.2 248.4C1706.1 245.0 1709.4 241.2 1712.0 240.3C1714.6 239.4 1716.4 238.8 1718.6 242.9C1720.8 247.0 1723.0 253.2 1725.2 265.0C1727.4 276.8 1730.0 300.9 1731.8 313.4C1733.6 325.9 1734.5 331.9 1736.0 340.0C1737.5 348.1 1738.9 356.6 1740.6 361.7C1742.3 366.8 1743.9 371.2 1746.1 370.5C1748.3 369.8 1751.5 362.8 1753.9 357.3C1756.3 351.8 1758.3 344.1 1760.5 337.5C1762.7 330.9 1765.3 323.9 1767.1 317.6C1768.9 311.4 1770.4 304.4 1771.5 300.0C1772.6 295.6 1773.2 292.5 1773.5 291.0"/>
<path stroke="#960090" d="M177.0 86.4C184.3 87.3 204.8 90.0 221.0 92.0C237.2 94.0 260.8 95.8 274.0 98.6C287.2 101.3 293.8 105.6 300.4 108.5C307.0 111.4 308.5 111.6 313.6 116.2C318.8 120.8 326.2 129.9 331.3 136.0C336.4 142.1 339.0 146.5 344.5 152.6C350.0 158.7 357.3 165.4 364.3 172.4C371.3 179.4 379.0 187.8 386.4 194.4C393.8 201.0 402.2 207.9 408.4 212.0C414.6 216.1 419.0 217.6 423.8 218.7C428.6 219.8 432.2 219.8 437.0 218.7C441.8 217.6 444.4 217.9 452.5 212.0C460.6 206.1 476.3 190.2 485.5 183.4C494.7 176.6 498.4 176.8 507.6 171.3C516.8 165.8 531.4 155.7 540.6 150.4C549.8 145.1 556.6 143.0 562.7 139.3C568.8 135.6 569.1 132.9 577.0 128.3C584.9 123.7 602.6 115.1 610.0 111.8C617.4 108.5 614.9 109.4 621.1 108.5C627.4 107.6 641.3 107.4 647.5 106.3C653.7 105.2 654.1 103.2 658.5 101.9C662.9 100.6 670.0 99.8 674.0 98.6C678.0 97.4 678.8 95.3 682.8 94.8C686.8 94.2 690.1 95.8 698.2 95.3C706.3 94.8 718.4 92.5 731.3 91.5C744.1 90.5 763.2 89.6 775.3 89.3C787.4 89.0 794.8 90.1 804.0 89.8C813.2 89.5 816.8 88.1 830.4 87.5C844.0 86.9 861.1 86.4 885.5 86.4C909.9 86.4 950.7 86.5 977.0 87.5C1003.3 88.5 1021.1 91.8 1043.1 92.6C1065.1 93.4 1090.8 92.3 1109.2 92.6C1127.6 92.9 1140.4 93.2 1153.3 94.6C1166.2 96.0 1178.0 97.8 1186.4 100.8C1194.9 103.8 1199.2 109.1 1204.0 112.9C1208.8 116.8 1211.5 120.1 1215.0 123.9C1218.5 127.8 1222.3 134.5 1224.9 136.0C1227.5 137.5 1228.4 135.4 1230.4 132.7C1232.4 129.9 1234.8 123.9 1237.0 119.5C1239.2 115.1 1241.5 108.9 1243.7 106.3C1245.9 103.7 1248.1 104.2 1250.3 104.1C1252.5 104.0 1254.7 106.1 1256.9 105.8C1259.1 105.5 1259.8 103.9 1263.5 102.3C1267.2 100.7 1274.5 97.1 1278.9 96.4C1283.3 95.7 1286.0 96.6 1290.0 97.9C1294.0 99.2 1297.3 103.0 1303.2 104.1C1309.1 105.2 1319.3 103.2 1325.2 104.5C1331.1 105.8 1334.0 108.4 1338.4 111.8C1342.8 115.2 1347.3 120.4 1351.7 125.0C1356.1 129.6 1360.7 134.5 1364.9 139.3C1369.1 144.1 1373.2 148.5 1377.0 153.7C1380.8 158.8 1385.1 165.2 1388.0 170.2C1390.9 175.1 1392.4 177.9 1394.6 183.4C1396.8 188.9 1399.0 196.6 1401.2 203.2C1403.4 209.8 1405.0 217.4 1407.9 223.1C1410.9 228.8 1415.2 233.8 1418.9 237.4C1422.6 241.0 1426.8 243.3 1429.9 244.7C1433.0 246.1 1435.0 244.2 1437.6 245.6C1440.2 246.9 1443.1 252.0 1445.3 252.8C1447.5 253.6 1449.1 251.6 1450.8 250.6C1452.5 249.6 1453.7 245.6 1455.2 246.9C1456.7 248.2 1458.3 253.1 1459.6 258.3C1460.9 263.5 1461.7 273.4 1463.0 278.2C1464.3 283.0 1465.6 284.9 1467.4 287.0C1469.2 289.1 1471.8 291.0 1474.0 291.0C1476.2 291.0 1478.0 290.6 1480.6 287.0C1483.2 283.4 1486.8 276.8 1489.4 269.4C1492.0 262.0 1493.8 255.0 1496.0 242.9C1498.2 230.8 1500.4 210.9 1502.6 196.6C1504.8 182.3 1507.2 165.3 1509.2 157.0C1511.2 148.7 1512.9 147.7 1514.7 146.6C1516.5 145.5 1517.5 148.0 1520.3 150.4C1523.1 152.8 1528.0 160.2 1531.3 160.9C1534.6 161.6 1536.4 159.9 1540.1 154.8C1543.8 149.7 1549.6 138.6 1553.3 130.5C1557.0 122.4 1559.5 111.2 1562.1 106.3C1564.7 101.3 1566.5 102.7 1568.7 100.8C1570.9 98.9 1573.3 95.2 1575.3 94.8C1577.3 94.4 1578.3 93.4 1580.9 98.6C1583.5 103.8 1588.0 120.0 1590.8 126.1C1593.5 132.2 1595.2 134.2 1597.4 134.9C1599.6 135.6 1601.4 133.6 1604.0 130.1C1606.6 126.6 1609.5 118.0 1612.8 114.0C1616.1 110.0 1620.3 107.2 1623.8 105.8C1627.3 104.4 1630.8 105.0 1633.7 105.8C1636.7 106.6 1638.7 109.8 1641.5 110.7C1644.3 111.6 1647.4 110.4 1650.3 111.1C1653.2 111.8 1656.5 113.7 1659.1 114.7C1661.7 115.7 1663.7 115.2 1665.7 117.3C1667.7 119.4 1669.2 126.0 1671.2 127.2C1673.2 128.4 1675.4 123.1 1677.8 124.4C1680.2 125.7 1682.0 131.7 1685.5 134.9C1689.0 138.1 1694.8 142.7 1698.8 143.7C1702.8 144.7 1706.1 141.5 1709.8 141.1C1713.5 140.7 1718.2 140.3 1720.8 141.1C1723.4 141.9 1723.4 141.9 1725.2 146.0C1727.0 150.1 1729.2 154.4 1731.8 165.8C1734.4 177.2 1738.0 203.7 1740.6 214.3C1743.2 225.0 1745.3 227.7 1747.2 229.7C1749.1 231.7 1749.5 229.7 1751.7 226.4C1753.9 223.1 1757.9 215.6 1760.5 209.9C1763.1 204.2 1765.4 195.7 1767.1 192.2C1768.8 188.7 1769.3 192.9 1770.4 188.9C1771.5 184.9 1773.0 171.5 1773.5 168.0"/>
</g>
<rect x="177.0" y="29.5" width="1597.4" height="1187.0" fill="none" stroke="#000" stroke-width="4.6"/>
<path d="M177.0 1216.5 V1240.6 M287.9 1216.5 V1229.5 M398.9 1216.5 V1240.6 M509.8 1216.5 V1229.5 M620.7 1216.5 V1240.6 M731.7 1216.5 V1229.5 M842.6 1216.5 V1240.6 M953.5 1216.5 V1229.5 M1064.4 1216.5 V1240.6 M1175.4 1216.5 V1229.5 M1286.3 1216.5 V1240.6 M1397.2 1216.5 V1229.5 M1508.2 1216.5 V1240.6 M1619.1 1216.5 V1229.5 M1730.0 1216.5 V1240.6" stroke="#000" stroke-width="3.8" fill="none"/>
<text x="176.6" y="1291.6" font-size="44.5" letter-spacing="0.9" text-anchor="middle">4000</text>
<text x="398.5" y="1291.6" font-size="44.5" letter-spacing="0.9" text-anchor="middle">3500</text>
<text x="620.4" y="1291.6" font-size="44.5" letter-spacing="0.9" text-anchor="middle">3000</text>
<text x="842.2" y="1291.6" font-size="44.5" letter-spacing="0.9" text-anchor="middle">2500</text>
<text x="1064.1" y="1291.6" font-size="44.5" letter-spacing="0.9" text-anchor="middle">2000</text>
<text x="1286.0" y="1291.6" font-size="44.5" letter-spacing="0.9" text-anchor="middle" clip-path="url(#c1_1500)">1500</text>
<text x="1507.8" y="1291.6" font-size="44.5" letter-spacing="0.9" text-anchor="middle" clip-path="url(#c1_1000)">1000</text>
<text x="1729.7" y="1291.6" font-size="44.5" letter-spacing="0.9" text-anchor="middle">500</text>
<text x="740.8" y="1394.9" font-size="50.8">Wavenumber (cm</text>
<text x="0" y="0" font-size="30" transform="translate(1162.8 1362.9) scale(1.24 1)">-</text>
<text x="1174.3" y="1363.9" font-size="34.8" clip-path="url(#csup)">1</text>
<text x="1195.2" y="1394.2" font-size="46.8">)</text>
<text transform="translate(70.1 902.6) rotate(-90)" x="0" y="0" font-size="57" letter-spacing="-0.3">Transmittance (%)</text>
<text x="878.9" y="78.2" font-size="42.3" letter-spacing="2">(g)</text>
<text x="863.6" y="188.3" font-size="42.3" letter-spacing="2">(h)</text>
<text x="879.0" y="296.3" font-size="42.3" letter-spacing="2">(f)</text>
<text x="871.3" y="457.0" font-size="42.3" letter-spacing="2">(d)</text>
<text x="868.0" y="520.9" font-size="42.3" letter-spacing="2">(e)</text>
<text x="863.6" y="580.4" font-size="42.3" letter-spacing="2">(c)</text>
<text x="871.3" y="752.3" font-size="42.3" letter-spacing="2">(b)</text>
<text x="873.5" y="858.5" font-size="42.3" letter-spacing="2">(a)</text>
<defs><clipPath id="c1_1500" clipPathUnits="userSpaceOnUse"><rect x="1229.6" y="1240" width="30.0" height="46.1"/><rect x="1244.9" y="1240" width="6.1" height="70"/><rect x="1259.5" y="1240" width="150" height="70"/></clipPath><clipPath id="c1_1000" clipPathUnits="userSpaceOnUse"><rect x="1451.4" y="1240" width="30.0" height="46.1"/><rect x="1466.7" y="1240" width="6.1" height="70"/><rect x="1481.3" y="1240" width="150" height="70"/></clipPath><clipPath id="csup" clipPathUnits="userSpaceOnUse"><rect x="1171.3" y="1320" width="30" height="39.4"/><rect x="1182.4" y="1320" width="4.7" height="60"/></clipPath></defs>
</svg></body></html>
